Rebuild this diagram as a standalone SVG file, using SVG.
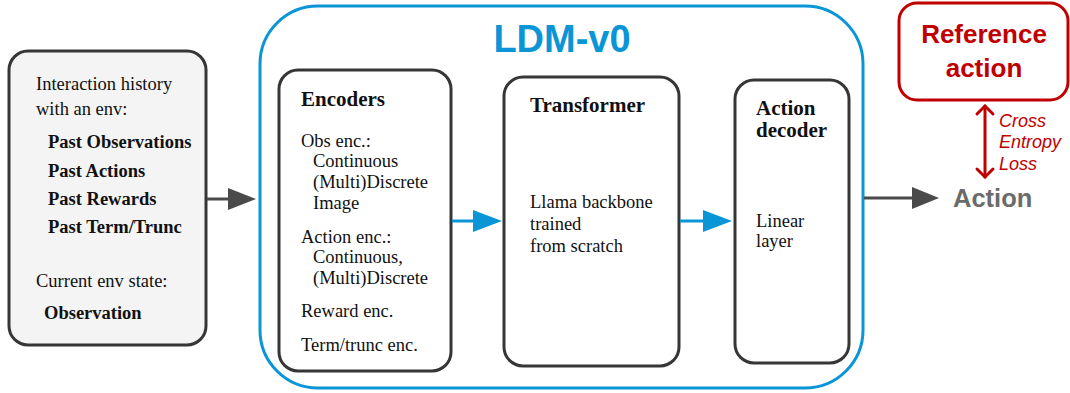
<svg xmlns="http://www.w3.org/2000/svg" width="1070" height="393" viewBox="0 0 1070 393">
<style>
.box{fill:#fff;stroke:#363636;stroke-width:3}
.serif{font-family:"Liberation Serif","Times New Roman",serif;font-size:18.5px;fill:#111}
.b{font-weight:bold}
.h{font-family:"Liberation Serif","Times New Roman",serif;font-weight:bold;font-size:21px;fill:#111}
.gl{stroke:#4a4a4a;stroke-width:3;fill:none}
.bl{stroke:#0a95d6;stroke-width:3;fill:none}
</style>
<rect width="1070" height="393" fill="#fff"/>

<g id="history">
<rect x="9" y="51" width="197" height="294" rx="19" fill="#f4f4f4" stroke="#363636" stroke-width="3"/>
<text class="serif" x="36" y="90">Interaction history</text>
<text class="serif" x="36" y="115">with an env:</text>
<text class="serif b" x="48" y="148">Past Observations</text>
<text class="serif b" x="48" y="177">Past Actions</text>
<text class="serif b" x="48" y="205">Past Rewards</text>
<text class="serif b" x="48" y="233">Past Term/Trunc</text>
<text class="serif" x="36" y="287">Current env state:</text>
<text class="serif b" x="44" y="319">Observation</text>
</g>

<g id="ldm">
<rect x="260" y="6" width="603" height="382" rx="58" fill="none" stroke="#0a95d6" stroke-width="3"/>
<text x="562" y="52" text-anchor="middle" font-family="Liberation Sans, Arial, sans-serif" font-weight="bold" font-size="38" fill="#0a95d6">LDM-v0</text>
</g>

<g id="encoders">
<rect class="box" x="279" y="70" width="172" height="301" rx="19"/>
<text class="h" x="301" y="106">Encoders</text>
<text class="serif" x="301" y="147">Obs enc.:</text>
<text class="serif" x="313" y="167">Continuous</text>
<text class="serif" x="313" y="188">(Multi)Discrete</text>
<text class="serif" x="313" y="209">Image</text>
<text class="serif" x="301" y="243">Action enc.:</text>
<text class="serif" x="313" y="263">Continuous,</text>
<text class="serif" x="313" y="284">(Multi)Discrete</text>
<text class="serif" x="301" y="317">Reward enc.</text>
<text class="serif" x="301" y="351">Term/trunc enc.</text>
</g>

<g id="transformer">
<rect class="box" x="504" y="77" width="175" height="289" rx="19"/>
<text class="h" x="530" y="112">Transformer</text>
<text class="serif" x="530" y="208">Llama backbone</text>
<text class="serif" x="530" y="230">trained</text>
<text class="serif" x="530" y="252">from scratch</text>
</g>

<g id="decoder">
<rect class="box" x="735" y="80" width="114" height="283" rx="19"/>
<text class="h" x="756" y="115" font-size="20.5">Action</text>
<text class="h" x="756" y="137" font-size="20.5">decoder</text>
<text class="serif" x="756" y="227">Linear</text>
<text class="serif" x="756" y="247">layer</text>
</g>

<g id="reference">
<rect x="899" y="3" width="169" height="97" rx="18" fill="#fff" stroke="#c00000" stroke-width="3"/>
<text x="984" y="43" text-anchor="middle" font-family="Liberation Sans, Arial, sans-serif" font-weight="bold" font-size="26" fill="#c00000">Reference</text>
<text x="984" y="77" text-anchor="middle" font-family="Liberation Sans, Arial, sans-serif" font-weight="bold" font-size="26" fill="#c00000">action</text>
</g>

<g id="action">
<text x="953" y="207" font-family="Liberation Sans, Arial, sans-serif" font-weight="bold" font-size="25.5" fill="#6b6b6b">Action</text>
</g>

<g id="connectors">
<line class="gl" x1="207" y1="199" x2="232" y2="199"/>
<path d="M228,188 L256,199 L228,210 Z" fill="#4a4a4a"/>
<line class="bl" x1="452" y1="221" x2="476" y2="221"/>
<path d="M473,210 L502,221 L473,232 Z" fill="#0a95d6"/>
<line class="bl" x1="680" y1="221" x2="706" y2="221"/>
<path d="M703,210 L732,221 L703,232 Z" fill="#0a95d6"/>
<line class="gl" x1="864" y1="198" x2="915" y2="198"/>
<path d="M912,187 L939,198 L912,209 Z" fill="#4a4a4a"/>
<g stroke="#c00000" stroke-width="3" fill="none" stroke-linecap="round">
<line x1="985" y1="106" x2="985" y2="177"/>
<path d="M977,114 L985,106 L993,114"/>
<path d="M977,169 L985,177 L993,169"/>
</g>
<g font-family="Liberation Sans, Arial, sans-serif" font-style="italic" font-size="18" fill="#c00000">
<text x="999" y="127">Cross</text>
<text x="999" y="148">Entropy</text>
<text x="999" y="170">Loss</text>
</g>
</g>
</svg>
